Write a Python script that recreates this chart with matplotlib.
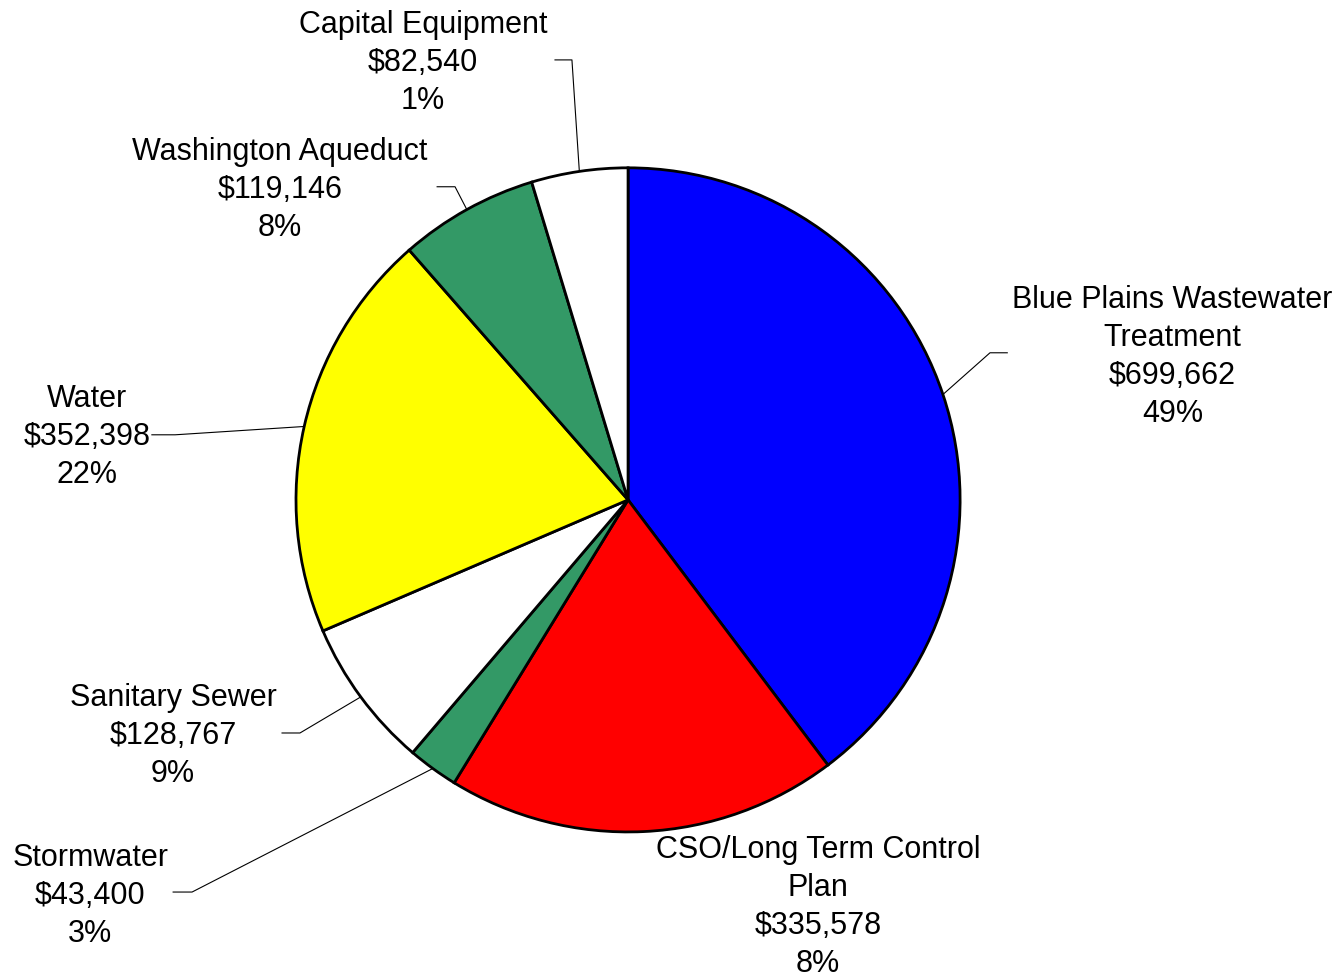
import numpy as np
import matplotlib
matplotlib.use("Agg")
import matplotlib.pyplot as plt

plt.rcParams['font.family'] = ['Liberation Sans', 'DejaVu Sans']

# --- data (clockwise from 12 o'clock)
categories = ['Blue Plains Wastewater\nTreatment', 'CSO/Long Term Control\nPlan', 'Stormwater',
              'Sanitary Sewer', 'Water', 'Washington Aqueduct', 'Capital Equipment']
values = [699662, 335578, 43400, 128767, 352398, 119146, 82540]
pct_labels = ['49%', '8%', '3%', '9%', '22%', '8%', '1%']
colors = ['#0000FF', '#FF0000', '#339966', '#FFFFFF', '#FFFF00', '#339966', '#FFFFFF']

# label centre and leader elbow / end (data units, pie radius = 1)
label_pos = [(1.64, 0.431), (0.572, -1.226), (-1.62, -1.193), (-1.37, -0.711),
             (-1.63, 0.190), (-1.048, 0.934), (-0.617, 1.316)]
leader = [((1.090, 0.443), (1.142, 0.443)), None, ((-1.313, -1.181), (-1.370, -1.181)),
          ((-0.988, -0.702), (-1.042, -0.702)), ((-1.364, 0.196), (-1.434, 0.196)),
          ((-0.521, 0.943), (-0.575, 0.943)), ((-0.169, 1.325), (-0.220, 1.325))]

fig = plt.figure(figsize=(13.44, 9.77), dpi=100)
ax = fig.add_axes([0.1708, 0.0805, 0.593, 0.8157])
wedges, _ = ax.pie(values, colors=colors, startangle=90, counterclock=False, radius=1,
                   wedgeprops=dict(edgecolor='black', linewidth=2))
ax.set_xlim(-1.2, 1.2)
ax.set_ylim(-1.2, 1.2)
ax.set_aspect('equal')
ax.axis('off')

for w, cat, v, p, pos, ld in zip(wedges, categories, values, pct_labels, label_pos, leader):
    ax.text(pos[0], pos[1], f"{cat}\n${v:,}\n{p}", ha='center', va='center',
            fontsize=22, linespacing=1.35, clip_on=False)
    if ld is None:
        continue
    mid = np.deg2rad((w.theta1 + w.theta2) / 2)
    xs = [np.cos(mid), ld[0][0], ld[1][0]]
    ys = [np.sin(mid), ld[0][1], ld[1][1]]
    ax.plot(xs, ys, color='black', linewidth=0.8, clip_on=False, zorder=0.5)

fig.savefig('out.png', dpi=100, facecolor='white')
